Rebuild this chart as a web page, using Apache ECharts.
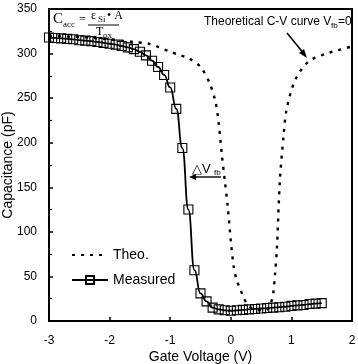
<!DOCTYPE html>
<html>
<head>
<meta charset="utf-8">
<script src="https://cdn.jsdelivr.net/npm/echarts@6/dist/echarts.min.js"></script>
<style>
  html, body { margin: 0; padding: 0; background: #fff; }
  #chart { width: 358px; height: 364px; }
</style>
</head>
<body>
<div id="chart"></div>
<script>
// measured C-V, gate voltage step 0.1 V
const gateVoltage = [
  -3.0, -2.9, -2.8, -2.7, -2.6, -2.5, -2.4, -2.3, -2.2, -2.1,
  -2.0, -1.9, -1.8, -1.7, -1.6, -1.5, -1.4, -1.3, -1.2, -1.1,
  -1.0, -0.9, -0.8, -0.7, -0.6, -0.5, -0.4, -0.3, -0.2, -0.1,
  0.0, 0.1, 0.2, 0.3, 0.4, 0.5, 0.6, 0.7, 0.8, 0.9,
  1.0, 1.1, 1.2, 1.3, 1.4, 1.5
];
const measuredCap = [
  318, 317.5, 317, 316.5, 316, 315, 314.5, 314, 313, 312,
  311, 310, 308.5, 307, 305, 302, 298, 292, 285, 276,
  262, 238, 194, 125, 57, 31, 22, 15, 13, 12,
  11.5, 12, 12.5, 13, 13.5, 14, 14.5, 15, 15.5, 16,
  17, 17.5, 18, 19, 19.5, 20
];

// theoretical curve, Vfb = 0
const theoVoltage = [
  -3.0, -2.5, -2.0, -1.6, -1.35, -1.2, -1.0, -0.85, -0.7, -0.5,
  -0.35, -0.25, -0.2, -0.15, -0.1, -0.05, 0.0, 0.05, 0.1, 0.15,
  0.2, 0.26, 0.35, 0.5, 0.6, 0.66, 0.7, 0.73, 0.76, 0.81,
  0.87, 0.92, 1.06, 1.28, 1.58, 2.0
];
const theoCap = [
  320, 318.5, 316, 313, 311, 307.5, 302, 298.5, 295, 285,
  267, 245, 222, 188, 158, 128, 90, 60, 45, 37,
  28, 20, 14, 12, 13, 20, 31, 53, 80, 158,
  207, 237, 270, 291, 300, 308
];

const xTicks = [-3, -2, -1, 0, 1, 2];

const chart = echarts.init(document.getElementById('chart'));

const font = 'Liberation Sans, Arial, sans-serif';
const serif = 'Liberation Serif, Times New Roman, serif';

const option = {
  animation: false,
  grid: {
    left: 49, top: 9, right: 6, bottom: 43,
    outerBoundsMode: 'none',
    containLabel: false,
    show: true, borderColor: '#000', borderWidth: 2
  },
  xAxis: {
    type: 'value',
    min: xTicks[0], max: xTicks[xTicks.length - 1], interval: 1,
    name: 'Gate Voltage (V)',
    nameLocation: 'middle',
    nameGap: 29,
    nameMoveOverlap: false,
    nameTextStyle: { color: '#000', fontSize: 14, fontFamily: font },
    axisLine: { onZero: false, lineStyle: { color: '#000', width: 2 } },
    axisTick: { inside: true, length: 4, lineStyle: { color: '#000', width: 1.5 } },
    axisLabel: { color: '#000', fontSize: 12, fontFamily: font, margin: 14 },
    splitLine: { show: false }
  },
  yAxis: {
    type: 'value',
    min: 0, max: 350, interval: 50,
    name: 'Capacitance (pF)',
    nameLocation: 'middle',
    nameGap: 34,
    nameMoveOverlap: false,
    nameTextStyle: { color: '#000', fontSize: 14, fontFamily: font },
    axisLine: { onZero: false, lineStyle: { color: '#000', width: 2 } },
    axisTick: { inside: true, length: 4, lineStyle: { color: '#000', width: 1.5 } },
    minorTick: { show: true, splitNumber: 2, length: 3, lineStyle: { color: '#000', width: 1.2 } },
    axisLabel: { color: '#000', fontSize: 12, fontFamily: font, margin: 12 },
    splitLine: { show: false }
  },
  legend: {
    orient: 'vertical',
    left: 66, top: 243,
    itemWidth: 36, itemHeight: 10, itemGap: 11,
    textStyle: { color: '#000', fontSize: 14, fontFamily: font },
    data: [
      { name: 'Theo.', itemStyle: { opacity: 0 } },
      'Measured'
    ]
  },
  series: [
    {
      name: 'Theo.',
      type: 'line',
      data: theoVoltage.map((v, i) => [v, theoCap[i]]),
      smooth: 0.3,
      symbol: 'none',
      lineStyle: { color: '#000', width: 2.4, type: [3, 6] },
      itemStyle: { color: '#000' },
      z: 2
    },
    {
      name: 'Measured',
      type: 'line',
      data: gateVoltage.map((v, i) => [v, measuredCap[i]]),
      smooth: true,
      smoothMonotone: 'x',
      symbol: 'rect',
      symbolSize: 9,
      showAllSymbol: true,
      lineStyle: { color: '#000', width: 1.8 },
      itemStyle: { color: 'rgba(255,255,255,0)', borderColor: '#000', borderWidth: 1.1 },
      z: 3
    }
  ],
  graphic: [
    // formula C_acc = eps_Si * A / T_ox
    { type: 'text', left: 53, top: 12, style: { text: 'C', font: '15px ' + serif, fill: '#000' } },
    { type: 'text', left: 63, top: 20, style: { text: 'acc', font: '9px ' + serif, fill: '#000' } },
    { type: 'text', left: 79, top: 14, style: { text: '=', font: '12px ' + serif, fill: '#000' } },
    { type: 'text', left: 91, top: 10, style: { text: 'ε', font: '12px ' + serif, fill: '#000' } },
    { type: 'text', left: 98, top: 15, style: { text: 'Si', font: '9px ' + serif, fill: '#000' } },
    { type: 'text', left: 107, top: 10, style: { text: '• A', font: '12px ' + serif, fill: '#000' } },
    { type: 'line', shape: { x1: 88, y1: 25, x2: 119, y2: 25 }, style: { stroke: '#000', lineWidth: 1 } },
    { type: 'text', left: 96, top: 26, style: { text: 'T', font: '12px ' + serif, fill: '#000' } },
    { type: 'text', left: 103, top: 31, style: { text: 'ox', font: '9px ' + serif, fill: '#000' } },

    // theoretical curve label + arrow
    { type: 'text', left: 204, top: 16, style: { text: 'Theoretical C-V curve V', font: '12px ' + font, fill: '#000' } },
    { type: 'text', left: 331, top: 22, style: { text: 'fb', font: '8px ' + font, fill: '#000' } },
    { type: 'text', left: 338, top: 16, style: { text: '=0', font: '12px ' + font, fill: '#000' } },
    { type: 'line', shape: { x1: 287, y1: 33, x2: 305, y2: 55 }, style: { stroke: '#000', lineWidth: 1.6 } },
    { type: 'polygon', shape: { points: [[307, 58], [299, 53], [304, 49]] }, style: { fill: '#000' } },

    // delta Vfb label + arrow
    { type: 'text', left: 192, top: 163, style: { text: '△V', font: '13px ' + font, fill: '#000' } },
    { type: 'text', left: 214, top: 169, style: { text: 'fb', font: '8px ' + font, fill: '#000' } },
    { type: 'line', shape: { x1: 193, y1: 177, x2: 221, y2: 177 }, style: { stroke: '#000', lineWidth: 1.4 } },
    { type: 'polygon', shape: { points: [[189, 177], [196, 174], [196, 180]] }, style: { fill: '#000' } }
  ]
};

chart.setOption(option);
</script>
</body>
</html>
